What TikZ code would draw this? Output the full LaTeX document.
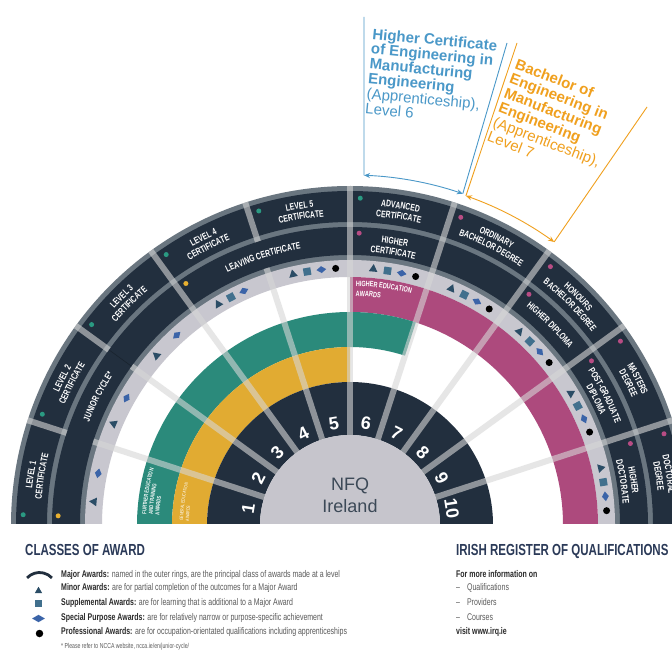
\documentclass[tikz,border=0pt]{standalone}
\usepackage{fontspec}
\setmainfont{Liberation Sans}
\newfontfamily\cond{Liberation Sans}[FakeStretch=0.72]
\usetikzlibrary{shapes.geometric,decorations.text,arrows.meta}
\definecolor{navy}{HTML}{222F3E}
\definecolor{ringgray}{HTML}{6A7680}
\definecolor{lightband}{HTML}{C8C7CF}
\definecolor{tealc}{HTML}{2B8A7B}
\definecolor{goldc}{HTML}{E1AB32}
\definecolor{magc}{HTML}{AD4A7D}
\definecolor{nfqgray}{HTML}{C6C5CC}
\definecolor{spokec}{HTML}{D6D6D6}
\definecolor{tric}{HTML}{2B4D66}
\definecolor{sqc}{HTML}{41708D}
\definecolor{diac}{HTML}{3B64A8}
\definecolor{dotteal}{HTML}{2A9A82}
\definecolor{dotgold}{HTML}{E8B030}
\definecolor{dotmag}{HTML}{B84C84}
\definecolor{bluec}{HTML}{4A98C8}
\definecolor{orangec}{HTML}{F0A01E}
\definecolor{headc}{HTML}{2B3A58}
\definecolor{bodyc}{HTML}{5A5A5A}
\definecolor{legbold}{HTML}{2A2A2A}
\definecolor{nfqtext}{HTML}{3C4957}
\newcommand\ringfont{\cond\bfseries\fontsize{9.5}{10}\selectfont}
\newcommand\tealfont{\cond\bfseries\fontsize{5.8}{6}\selectfont}
\newcommand\goldfont{\cond\fontsize{4.8}{5}\selectfont}
\newcommand\hefont{\cond\bfseries\fontsize{7.7}{8}\selectfont}
\newcommand\legfont{\cond\fontsize{9.7}{11}\selectfont}
\newcommand\myann[5]{\fill[#5] (#3:#2) arc[start angle=#3,end angle=#4,radius=#2] -- (#4:#1) arc[start angle=#4,end angle=#3,radius=#1] -- cycle;}
\newcommand\curvetext[6]{\path[decorate,decoration={text along path,text align=#1,text color=white,text={|#2|#6}}] (#4:#3) arc[start angle=#4,end angle=#5,radius=#3];}
\newcommand\outerlabel[4]{\curvetext{center}{\ringfont}{320}{#1}{#2}{#3}\curvetext{center}{\ringfont}{309.5}{#1}{#2}{#4}}
\newcommand\innerlabel[4]{\curvetext{center}{\ringfont}{284}{#1}{#2}{#3}\curvetext{center}{\ringfont}{273.5}{#1}{#2}{#4}}
\newcommand\awardsyms[2]{%
 \pgfmathsetmacro\symS{180-18*(#1-1)}%
 \pgfmathsetmacro\symA{\symS-5.2}%
 \pgfmathsetmacro\symB{\symS-8.4}%
 \pgfmathsetmacro\symC{\symS-11.6}%
 \pgfmathsetmacro\symD{\symS-14.8}%
 \node[tri,rotate=\symA-90] (tri#1) at (\symA:257) {};%
 \ifnum#2>2 \node[sqr,rotate=\symB-90] (sq#1) at (\symB:257) {};\fi
 \node[dia,rotate=\symC-90] (dia#1) at (\symC:257) {};%
 \ifnum#2>3 \node[pdot] (pd#1) at (\symD:257) {};\fi}
\begin{document}
\begin{tikzpicture}[x=1pt,y=1pt,
  spoke/.style={line width=6pt,draw=spokec,draw opacity=0.6},
  numlab/.style={text=white,font=\bfseries\fontsize{18}{18}\selectfont,inner sep=0pt},
  tri/.style={regular polygon,regular polygon sides=3,minimum size=10pt,inner sep=0pt,fill=tric},
  sqr/.style={rectangle,minimum size=7.5pt,inner sep=0pt,fill=sqc},
  dia/.style={diamond,minimum width=10pt,minimum height=7pt,inner sep=0pt,fill=diac},
  pdot/.style={circle,minimum size=7pt,inner sep=0pt,fill=black},
  segdot/.style={circle,minimum size=5pt,inner sep=0pt},
  bracket/.style={line width=0.9pt},
  tips/.style={{Stealth[length=6pt,width=5pt]}-{Stealth[length=6pt,width=5pt]}},
  legtxt/.style={anchor=base west,inner sep=0pt,font=\legfont,text=bodyc}]
\useasboundingbox (0,0) rectangle (672,654);
\fill[white] (0,0) rectangle (672,654);
% ---------------- wheel ----------------
\begin{scope}
\clip (0,131) rectangle (672,654);
\begin{scope}[shift={(350,129)}]
\myann{263}{339}{-2}{182}{ringgray}
\myann{303}{334}{-2}{182}{navy}
\myann{270}{298}{-2}{182}{navy}
\myann{248}{265}{-2}{182}{lightband}
\myann{213}{248}{-2}{90}{magc}
\myann{178}{213}{72}{182}{tealc}
\myann{143}{178}{90}{182}{goldc}
\myann{90}{143}{-2}{182}{navy}
\fill[nfqgray] (0,0) circle[radius=90];
% spokes
\foreach \a in {18,36,54,72,90,126} \draw[spoke] (\a:90) -- (\a:339);
\foreach \a in {108,144,162} {\draw[spoke] (\a:90) -- (\a:270); \draw[spoke] (\a:298) -- (\a:339);}
\draw[navy!75!black,line width=0.6pt] (144:270) -- (144:298);
% outer band labels
\outerlabel{180}{162}{LEVEL 1}{CERTIFICATE}
\outerlabel{162}{144}{LEVEL 2}{CERTIFICATE}
\outerlabel{144}{126}{LEVEL 3}{CERTIFICATE}
\outerlabel{126}{108}{LEVEL 4}{CERTIFICATE}
\outerlabel{108}{90}{LEVEL 5}{CERTIFICATE}
\outerlabel{90}{72}{ADVANCED}{CERTIFICATE}
\outerlabel{72}{54}{ORDINARY}{BACHELOR DEGREE}
\outerlabel{54}{36}{HONOURS}{BACHELOR DEGREE}
\outerlabel{36}{18}{MASTERS}{DEGREE}
\outerlabel{18}{0}{DOCTORAL}{DEGREE}
% inner band labels
\curvetext{center}{\ringfont}{280.5}{180}{126}{JUNIOR CYCLE*}
\curvetext{center}{\ringfont}{280.5}{126}{90}{LEAVING CERTIFICATE}
\innerlabel{90}{72}{HIGHER}{CERTIFICATE}
\curvetext{center}{\ringfont}{281}{54}{36}{HIGHER DIPLOMA}
\innerlabel{36}{18}{POST-GRADUATE}{DIPLOMA}
\innerlabel{18}{0}{HIGHER}{DOCTORATE}
% band titles
\curvetext{left}{\tealfont}{204}{177}{140}{FURTHER EDUCATION}
\curvetext{left}{\tealfont}{197.5}{177}{140}{AND TRAINING}
\curvetext{left}{\tealfont}{191}{177}{140}{AWARDS}
\curvetext{left}{\goldfont}{167}{178.6}{150}{GENERAL EDUCATION}
\curvetext{left}{\goldfont}{161}{178.6}{150}{AWARDS}
\curvetext{left}{\hefont}{239}{88.6}{60}{HIGHER EDUCATION}
\curvetext{left}{\hefont}{229}{88.6}{60}{AWARDS}
% segment dots
\foreach \k/\c in {1/dotteal,2/dotteal,3/dotteal,4/dotteal,5/dotteal,6/dotteal,7/dotmag,8/dotmag,9/dotmag,10/dotmag}{%
  \pgfmathsetmacro\da{180-18*(\k-1)-1.8}%
  \node[segdot,fill=\c] (od\k) at (\da:327) {};}
\node[segdot,fill=dotgold] (idjc) at (178.2:292) {};
\node[segdot,fill=dotgold] (idlc) at (124.2:292) {};
\node[segdot,fill=dotmag] (id6) at (88.2:292) {};
\node[segdot,fill=dotmag] (id8) at (52.2:292) {};
\node[segdot,fill=dotmag] (id9) at (34.2:292) {};
\node[segdot,fill=dotmag] (id10) at (16.2:292) {};
% award symbols
\awardsyms{1}{2}
\awardsyms{2}{2}
\awardsyms{3}{2}
\awardsyms{4}{3}
\awardsyms{5}{4}
\awardsyms{6}{4}
\awardsyms{7}{4}
\awardsyms{8}{4}
\awardsyms{9}{4}
\awardsyms{10}{4}
% numbers
\foreach \k in {1,...,10}{%
  \pgfmathsetmacro\nang{189-18*\k}%
  \node[numlab,rotate=\nang-90] (num\k) at (\nang:103) {\k};}
\node[anchor=base,inner sep=0pt,text=nfqtext,font=\fontsize{18}{18}\selectfont] (nfq) at (0,35) {NFQ};
\node[anchor=base,inner sep=0pt,text=nfqtext,font=\fontsize{18}{18}\selectfont] (irl) at (0,13) {Ireland};
\end{scope}
\end{scope}
% ---------------- brackets ----------------
\begin{scope}[shift={(350,129)}]
\coordinate (bA) at (87.7:350);
\coordinate (bB) at (71.2:350);
\coordinate (oA) at (70.6:349);
\coordinate (oB) at (54.2:349);
\draw[bluec,bracket,tips] (bA) arc[start angle=87.7,end angle=71.2,radius=350];
\draw[orangec,bracket,tips] (oA) arc[start angle=70.6,end angle=54.2,radius=349];
\end{scope}
\coordinate (bT1) at (364,637);
\coordinate (bT2) at (507,611);
\coordinate (oT1) at (517,611);
\coordinate (oT2) at (647,547);
\draw[bluec,bracket] (bT1) -- (bA);
\draw[bluec,bracket] (bT2) -- (bB);
\draw[orangec,bracket] (oT1) -- (oA);
\draw[orangec,bracket] (oT2) -- (oB);
\node[anchor=north west,inner sep=0pt,rotate=-5.5,align=left,text=bluec,font=\fontsize{15}{15}\selectfont] (bluetxt) at (373,626)
 {\textbf{Higher Certificate}\\\textbf{of Engineering in}\\\textbf{Manufacturing}\\\textbf{Engineering}\\(Apprenticeship),\\Level 6};
\node[anchor=north west,inner sep=0pt,rotate=-21,align=left,text=orangec,font=\fontsize{15}{15.5}\selectfont] (orgtxt) at (518,596)
 {\textbf{Bachelor of}\\\textbf{Engineering in}\\\textbf{Manufacturing}\\\textbf{Engineering}\\(Apprenticeship),\\Level 7};
% ---------------- legend ----------------
\node[anchor=base west,inner sep=0pt,font=\cond\bfseries\fontsize{16}{16}\selectfont,text=headc] (classes) at (25,99) {CLASSES OF AWARD};
\node[anchor=base west,inner sep=0pt,font=\cond\bfseries\fontsize{16}{16}\selectfont,text=headc] (irq) at (456,99) {IRISH REGISTER OF QUALIFICATIONS};
\coordinate (mcen) at (39.5,64.5);
\draw[navy,line width=2.8pt] (mcen) ++(137:17) arc[start angle=137,end angle=43,radius=17];
\node[regular polygon,regular polygon sides=3,minimum size=8.5pt,inner sep=0pt,fill=tric] (ltri) at (38.5,63) {};
\node[rectangle,minimum size=7pt,inner sep=0pt,fill=sqc] (lsq) at (38.5,50.5) {};
\node[diamond,minimum width=13pt,minimum height=7.5pt,inner sep=0pt,fill=diac] (ldia) at (38.5,35.5) {};
\node[circle,minimum size=7.5pt,inner sep=0pt,fill=black] (ldot) at (39.5,20.5) {};
\node[legtxt] (lg1) at (61,77) {\textbf{\color{legbold}Major Awards:} named in the outer rings, are the principal class of awards made at a level};
\node[legtxt] (lg2) at (61,64) {\textbf{\color{legbold}Minor Awards:} are for partial completion of the outcomes for a Major Award};
\node[legtxt] (lg3) at (61,49) {\textbf{\color{legbold}Supplemental Awards:} are for learning that is additional to a Major Award};
\node[legtxt] (lg4) at (61,34) {\textbf{\color{legbold}Special Purpose Awards:} are for relatively narrow or purpose-specific achievement};
\node[legtxt] (lg5) at (61,20) {\textbf{\color{legbold}Professional Awards:} are for occupation-orientated qualifications including apprenticeships};
\node[legtxt,font=\cond\fontsize{7.2}{8}\selectfont] (fn) at (61,6) {* Please refer to NCCA website, ncca.ie/en/junior-cycle/};
\node[legtxt,text=legbold] (r1) at (456,77) {\bfseries For more information on};
\node[legtxt] (r2) at (456,64) {–\hspace{7pt}Qualifications};
\node[legtxt] (r3) at (456,49) {–\hspace{7pt}Providers};
\node[legtxt] (r4) at (456,34) {–\hspace{7pt}Courses};
\node[legtxt,text=legbold] (r5) at (456,20) {\bfseries visit www.irq.ie};
\end{tikzpicture}
\end{document}
